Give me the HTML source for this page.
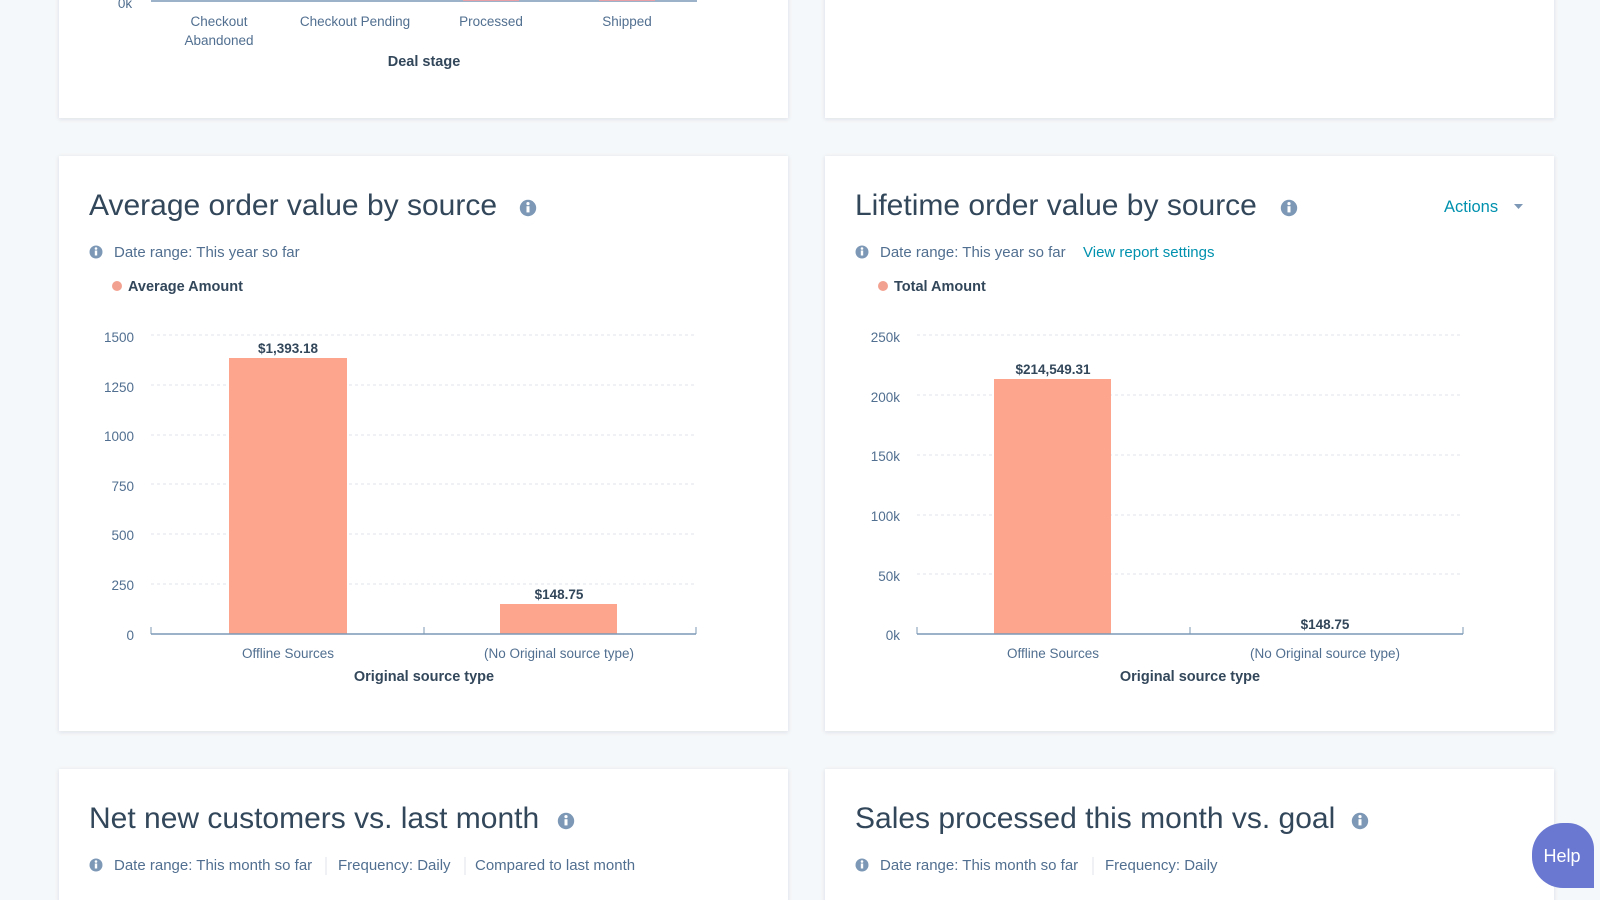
<!DOCTYPE html>
<html><head><meta charset="utf-8"><style>
html,body{margin:0;padding:0;background:#f5f8fa;width:1600px;height:900px;overflow:hidden}
svg{display:block;font-family:"Liberation Sans",sans-serif}
</style></head><body>
<svg width="1600" height="900" viewBox="0 0 1600 900" xmlns="http://www.w3.org/2000/svg">
<defs>
<filter id="sh" x="-5%" y="-5%" width="110%" height="110%"><feDropShadow dx="0" dy="1" stdDeviation="2" flood-color="#2d3e50" flood-opacity="0.12"/></filter>
<g id="info"><circle r="6.5" fill="#7c98b6"/><rect x="-1.2" y="-1.5" width="2.4" height="5" fill="#fff"/><circle cy="-3.5" r="1.3" fill="#fff"/></g>
<g id="binfo"><circle r="8.2" fill="#7c98b6"/><rect x="-1.5" y="-1.8" width="3" height="6.2" fill="#fff"/><circle cy="-4.4" r="1.6" fill="#fff"/></g>
</defs>
<rect width="1600" height="900" fill="#f5f8fa"/>
<rect x="59" y="-10" width="729" height="128" fill="#fff" filter="url(#sh)"/>
<rect x="825" y="-10" width="729" height="128" fill="#fff" filter="url(#sh)"/>
<rect x="59" y="156" width="729" height="575" fill="#fff" filter="url(#sh)"/>
<rect x="825" y="156" width="729" height="575" fill="#fff" filter="url(#sh)"/>
<rect x="59" y="769" width="729" height="150" fill="#fff" filter="url(#sh)"/>
<rect x="825" y="769" width="729" height="150" fill="#fff" filter="url(#sh)"/>

<g fill="#516f90" font-size="13.5" text-anchor="middle">
<text x="125" y="8">0k</text>
<text x="219" y="26">Checkout</text><text x="219" y="45">Abandoned</text>
<text x="355" y="26">Checkout Pending</text>
<text x="491" y="26">Processed</text>
<text x="627" y="26">Shipped</text>
</g>
<line x1="151" y1="1" x2="697" y2="1" stroke="#7c98b6" stroke-width="1.5"/>
<rect x="463" y="-2" width="56" height="3" fill="#e8a0a6"/><rect x="599" y="-2" width="56" height="3" fill="#e8a0a6"/>
<text x="424" y="66" font-size="14.5" font-weight="bold" fill="#33475b" text-anchor="middle">Deal stage</text>

<text x="89" y="215" font-size="30" fill="#33475b">Average order value by source</text>
<use href="#binfo" x="528" y="208"/>
<use href="#info" x="96" y="252"/>
<text x="114" y="257" font-size="15" fill="#516f90">Date range:  This year so far</text>
<circle cx="117" cy="286" r="5" fill="#f2a190"/>
<text x="128" y="291" font-size="14.5" font-weight="bold" fill="#33475b">Average Amount</text>
<g stroke="#dfe3eb" stroke-dasharray="3,3">
<line x1="151" y1="335" x2="696" y2="335"/><line x1="151" y1="385" x2="696" y2="385"/><line x1="151" y1="435" x2="696" y2="435"/><line x1="151" y1="484" x2="696" y2="484"/><line x1="151" y1="534" x2="696" y2="534"/><line x1="151" y1="584" x2="696" y2="584"/>
</g>
<g fill="#516f90" font-size="13.5" text-anchor="end">
<text x="134" y="342">1500</text><text x="134" y="392">1250</text><text x="134" y="441">1000</text><text x="134" y="491">750</text><text x="134" y="540">500</text><text x="134" y="590">250</text><text x="134" y="640">0</text>
</g>
<rect x="229" y="358" width="118" height="276" fill="#fea58e"/>
<rect x="500" y="604" width="117" height="30" fill="#fea58e"/>
<line x1="151" y1="634" x2="696" y2="634" stroke="#7c98b6" stroke-width="1.5"/>
<g stroke="#7c98b6"><line x1="151" y1="627" x2="151" y2="634"/><line x1="424" y1="627" x2="424" y2="634"/><line x1="696" y1="627" x2="696" y2="634"/></g>
<g font-size="13.5" font-weight="bold" fill="#33475b" text-anchor="middle"><text x="288" y="353">$1,393.18</text><text x="559" y="599">$148.75</text></g>
<g fill="#516f90" font-size="13.5" text-anchor="middle"><text x="288" y="658">Offline Sources</text><text x="559" y="658">(No Original source type)</text></g>
<text x="424" y="681" font-size="14.5" font-weight="bold" fill="#33475b" text-anchor="middle">Original source type</text>

<text x="855" y="215" font-size="30" fill="#33475b">Lifetime order value by source</text>
<use href="#binfo" x="1289" y="208"/>
<text x="1444" y="212" font-size="16.5" fill="#0091ae">Actions</text>
<path d="M1514 204 l9 0 l-4.5 5 z" fill="#7c98b6"/>
<use href="#info" x="862" y="252"/>
<text x="880" y="257" font-size="15" fill="#516f90">Date range:  This year so far</text>
<text x="1083" y="257" font-size="15" fill="#0091ae">View report settings</text>
<circle cx="883" cy="286" r="5" fill="#f2a190"/>
<text x="894" y="291" font-size="14.5" font-weight="bold" fill="#33475b">Total Amount</text>
<g stroke="#dfe3eb" stroke-dasharray="3,3">
<line x1="917" y1="335" x2="1463" y2="335"/><line x1="917" y1="395" x2="1463" y2="395"/><line x1="917" y1="455" x2="1463" y2="455"/><line x1="917" y1="515" x2="1463" y2="515"/><line x1="917" y1="574" x2="1463" y2="574"/>
</g>
<g fill="#516f90" font-size="13.5" text-anchor="end">
<text x="900" y="342">250k</text><text x="900" y="402">200k</text><text x="900" y="461">150k</text><text x="900" y="521">100k</text><text x="900" y="581">50k</text><text x="900" y="640">0k</text>
</g>
<rect x="994" y="379" width="117" height="255" fill="#fea58e"/>
<line x1="917" y1="634" x2="1463" y2="634" stroke="#7c98b6" stroke-width="1.5"/>
<g stroke="#7c98b6"><line x1="917" y1="627" x2="917" y2="634"/><line x1="1190" y1="627" x2="1190" y2="634"/><line x1="1463" y1="627" x2="1463" y2="634"/></g>
<g font-size="13.5" font-weight="bold" fill="#33475b" text-anchor="middle"><text x="1053" y="374">$214,549.31</text><text x="1325" y="629">$148.75</text></g>
<g fill="#516f90" font-size="13.5" text-anchor="middle"><text x="1053" y="658">Offline Sources</text><text x="1325" y="658">(No Original source type)</text></g>
<text x="1190" y="681" font-size="14.5" font-weight="bold" fill="#33475b" text-anchor="middle">Original source type</text>

<text x="89" y="828" font-size="30" fill="#33475b">Net new customers vs. last month</text>
<use href="#binfo" x="566" y="821"/>
<use href="#info" x="96" y="865"/>
<text x="114" y="870" font-size="15" fill="#516f90">Date range:  This month so far</text>
<line x1="326" y1="857" x2="326" y2="875" stroke="#dfe3eb"/>
<text x="338" y="870" font-size="15" fill="#516f90">Frequency:  Daily</text>
<line x1="465" y1="857" x2="465" y2="875" stroke="#dfe3eb"/>
<text x="475" y="870" font-size="15" fill="#516f90">Compared to last month</text>

<text x="855" y="828" font-size="30" fill="#33475b">Sales processed this month vs. goal</text>
<use href="#binfo" x="1360" y="821"/>
<use href="#info" x="862" y="865"/>
<text x="880" y="870" font-size="15" fill="#516f90">Date range:  This month so far</text>
<line x1="1093" y1="857" x2="1093" y2="875" stroke="#dfe3eb"/>
<text x="1105" y="870" font-size="15" fill="#516f90">Frequency:  Daily</text>

<path d="M1532 854 a31 31 0 0 1 31 -31 h5 a26 26 0 0 1 26 26 v39 h-31 a31 31 0 0 1 -31 -31 z" fill="#6a78d1"/>
<text x="1562" y="862" font-size="18" fill="#fff" text-anchor="middle">Help</text>
</svg>
</body></html>
